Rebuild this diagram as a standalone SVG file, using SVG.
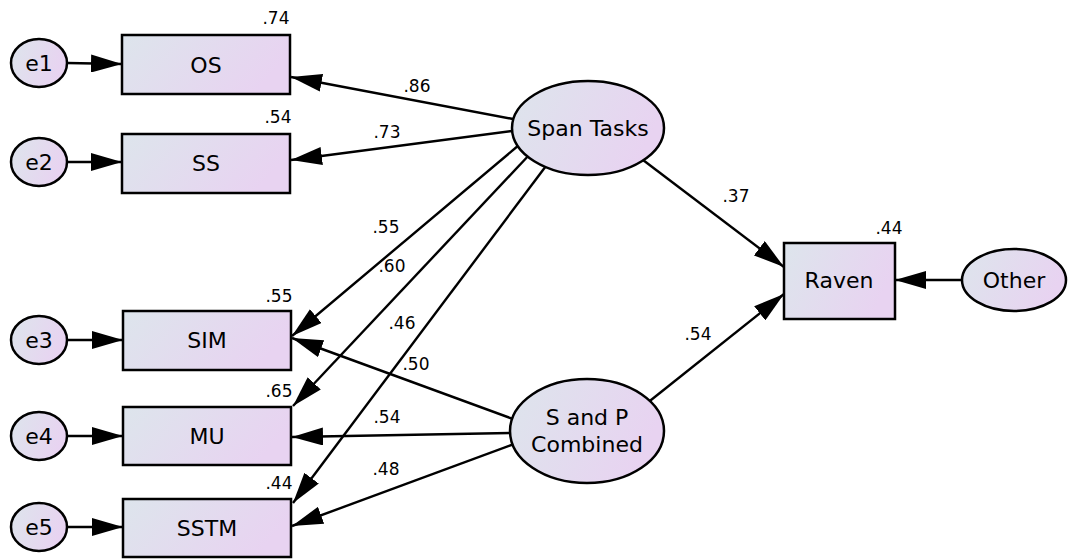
<svg xmlns="http://www.w3.org/2000/svg" width="1069" height="560" viewBox="0 0 1069 560">
<defs>
<linearGradient id="g" x1="0" y1="0" x2="1" y2="0.3">
<stop offset="0" stop-color="#dde5ec"/>
<stop offset="1" stop-color="#e8d3f1"/>
</linearGradient>
<marker id="ah" markerUnits="userSpaceOnUse" markerWidth="31" markerHeight="18" refX="31" refY="9" orient="auto" viewBox="0 0 31 18">
<path d="M0,0 L31,9 L0,18 z" fill="#000"/>
</marker>
</defs>
<style>
.n{fill:url(#g);stroke:#000;stroke-width:2.5}
.t{font-family:"DejaVu Sans",sans-serif;font-size:22px;fill:#000;text-anchor:middle}
.l{font-family:"DejaVu Sans",sans-serif;font-size:17px;fill:#000;text-anchor:middle}
.c{stroke:#000;stroke-width:2.4;fill:none;marker-end:url(#ah)}
</style>
<g id="connectors">
<line class="c" x1="67" y1="63" x2="122" y2="64"/>
<line class="c" x1="67" y1="162" x2="122" y2="162"/>
<line class="c" x1="67" y1="340" x2="123" y2="340"/>
<line class="c" x1="67" y1="436" x2="123" y2="436"/>
<line class="c" x1="67" y1="527" x2="123" y2="527"/>
<line class="c" x1="513" y1="119" x2="291" y2="77"/>
<line class="c" x1="512" y1="131" x2="291" y2="160"/>
<line class="c" x1="519" y1="145" x2="292" y2="336"/>
<line class="c" x1="530" y1="154" x2="293" y2="406"/>
<line class="c" x1="546" y1="166" x2="293" y2="503"/>
<line class="c" x1="513" y1="419" x2="292" y2="338"/>
<line class="c" x1="510" y1="433" x2="292" y2="437"/>
<line class="c" x1="514" y1="444" x2="292" y2="526"/>
<line class="c" x1="643" y1="160" x2="784" y2="267"/>
<line class="c" x1="646" y1="404" x2="784" y2="294"/>
<line class="c" x1="963" y1="280" x2="895" y2="280"/>
<text class="l" x="417" y="92">.86</text>
<text class="l" x="387" y="138">.73</text>
<text class="l" x="386" y="233">.55</text>
<text class="l" x="392" y="272">.60</text>
<text class="l" x="402" y="329">.46</text>
<text class="l" x="416" y="370">.50</text>
<text class="l" x="387" y="423">.54</text>
<text class="l" x="386" y="475">.48</text>
<text class="l" x="736" y="202">.37</text>
<text class="l" x="698" y="340">.54</text>
</g>
<g id="e1"><ellipse class="n" cx="39" cy="63" rx="28" ry="24"/><text class="t" x="39" y="71">e1</text></g>
<g id="e2"><ellipse class="n" cx="39" cy="162" rx="28" ry="24"/><text class="t" x="39" y="170">e2</text></g>
<g id="e3"><ellipse class="n" cx="39" cy="340" rx="28" ry="24"/><text class="t" x="39" y="348">e3</text></g>
<g id="e4"><ellipse class="n" cx="39" cy="436" rx="28" ry="24"/><text class="t" x="39" y="444">e4</text></g>
<g id="e5"><ellipse class="n" cx="39" cy="527" rx="28" ry="24"/><text class="t" x="39" y="535">e5</text></g>
<g id="OS"><rect class="n" x="122" y="35" width="168" height="59"/><text class="t" x="206" y="73">OS</text><text class="l" x="276" y="24">.74</text></g>
<g id="SS"><rect class="n" x="122" y="134" width="168" height="59"/><text class="t" x="206" y="171">SS</text><text class="l" x="278" y="123">.54</text></g>
<g id="SIM"><rect class="n" x="123" y="311" width="168" height="59"/><text class="t" x="207" y="348">SIM</text><text class="l" x="279" y="302">.55</text></g>
<g id="MU"><rect class="n" x="123" y="407" width="168" height="58"/><text class="t" x="207" y="444">MU</text><text class="l" x="279" y="397">.65</text></g>
<g id="SSTM"><rect class="n" x="123" y="499" width="168" height="58"/><text class="t" x="207" y="536">SSTM</text><text class="l" x="279" y="489">.44</text></g>
<g id="SpanTasks"><ellipse class="n" cx="588" cy="128" rx="76" ry="47"/><text class="t" x="588" y="136">Span Tasks</text></g>
<g id="SandP"><ellipse class="n" cx="587" cy="431" rx="77" ry="52"/><text class="t" x="587" y="425">S and P</text><text class="t" x="587" y="452">Combined</text></g>
<g id="Raven"><rect class="n" x="784" y="243" width="111" height="76"/><text class="t" x="839" y="288">Raven</text><text class="l" x="889" y="234">.44</text></g>
<g id="Other"><ellipse class="n" cx="1014" cy="280" rx="52" ry="31"/><text class="t" x="1014" y="288">Other</text></g>
</svg>
